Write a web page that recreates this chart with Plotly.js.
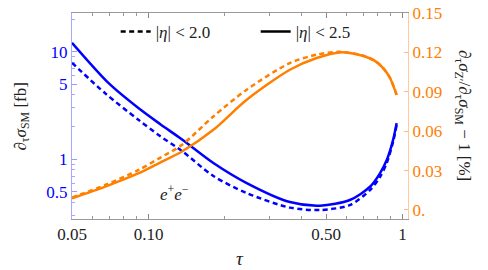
<!DOCTYPE html>
<html>
<head>
<meta charset="utf-8">
<script src="https://cdn.plot.ly/plotly-3.0.1.min.js"></script>
<style>html,body{margin:0;padding:0;background:#fff;}#chart{width:488px;height:270px;}</style>
</head>
<body>
<div id="chart"></div>
<script>
// tau grid and values
const tauBlueSolid = [0.05, 0.0697, 0.0915, 0.111, 0.1355, 0.18, 0.2435, 0.36, 0.473, 0.62, 0.744, 0.8145, 0.866, 0.917, 0.947];
const sigmaSM25    = [12.1, 5.1, 2.98, 2.13, 1.53, 0.925, 0.602, 0.401, 0.371, 0.419, 0.556, 0.741, 0.985, 1.51, 2.17];

const tauBlueDash  = [0.05, 0.0676, 0.0915, 0.111, 0.1355, 0.18, 0.2435, 0.36, 0.473, 0.62, 0.744, 0.8145, 0.866, 0.917, 0.947];
const sigmaSM20    = [7.90, 4.10, 2.32, 1.646, 1.194, 0.700, 0.486, 0.356, 0.338, 0.376, 0.518, 0.685, 0.925, 1.45, 2.08];

const tauOrange    = [0.05, 0.0676, 0.0915, 0.111, 0.1355, 0.18, 0.2435, 0.36, 0.459, 0.567, 0.70, 0.778, 0.84, 0.892, 0.947];
const ratio25      = [0.0089, 0.0178, 0.0280, 0.0361, 0.0445, 0.0610, 0.0839, 0.1068, 0.1157, 0.1200, 0.1172, 0.1135, 0.1078, 0.1005, 0.0877];
const ratio20      = [0.0095, 0.0190, 0.0305, 0.0397, 0.0496, 0.0712, 0.0916, 0.1119, 0.1183, 0.1204, 0.1175, 0.1136, 0.1078, 0.1007, 0.0877];

const xTickVals = [0.05, 0.1, 0.5, 1];
const xTickText = ['0.05', '0.10', '0.50', '1'];
const xMinor = [0.06, 0.07, 0.08, 0.09, 0.2, 0.3, 0.4, 0.6, 0.7, 0.8, 0.9];
const yTickVals = [0.5, 1, 5, 10];
const yTickText = ['0.5', '1', '5', '10'];
const yMinor = [0.3, 0.4, 0.6, 0.7, 0.8, 0.9, 2, 3, 4, 6, 7, 8, 9, 20];
const y2TickVals = [0, 0.03, 0.06, 0.09, 0.12, 0.15];
const y2TickText = ['0.', '0.03', '0.06', '0.09', '0.12', '0.15'];
const legendLabels = ['|<i>η</i>| < 2.0', '|<i>η</i>| < 2.5'];

const BLUE = '#0000ff', ORANGE = '#ff8000';
const FONT = 'Liberation Serif';
const DASH = '5px,3.5px';
const LW = 2.5;

const traces = [
  {x: tauBlueDash, y: sigmaSM20, yaxis: 'y', mode: 'lines', showlegend: false,
   line: {color: BLUE, width: LW, dash: DASH, shape: 'spline', smoothing: 0.8}},
  {x: tauBlueSolid, y: sigmaSM25, yaxis: 'y', mode: 'lines', showlegend: false,
   line: {color: BLUE, width: LW, shape: 'spline', smoothing: 0.8}},
  {x: tauOrange, y: ratio20, yaxis: 'y2', mode: 'lines', showlegend: false,
   line: {color: ORANGE, width: LW, dash: DASH, shape: 'spline', smoothing: 0.8}},
  {x: tauOrange, y: ratio25, yaxis: 'y2', mode: 'lines', showlegend: false,
   line: {color: ORANGE, width: LW, shape: 'spline', smoothing: 0.8}},
  {x: [null], y: [null], mode: 'lines', name: legendLabels[0], line: {color: '#000', width: LW, dash: DASH}},
  {x: [null], y: [null], mode: 'lines', name: legendLabels[1], line: {color: '#000', width: LW}}
];

const layout = {
  width: 488, height: 270,
  margin: {l: 72, r: 80, t: 13, b: 51, pad: 0},
  paper_bgcolor: '#fff', plot_bgcolor: '#fff',
  font: {family: FONT, size: 17, color: '#222'},
  showlegend: true,
  legend: {orientation: 'h', x: 0.13, y: 0.908, xanchor: 'left', yanchor: 'middle',
           font: {family: FONT, size: 17, color: '#222'}, bgcolor: 'rgba(0,0,0,0)',
           entrywidth: 95, entrywidthmode: 'pixels', tracegroupgap: 0},
  xaxis: {type: 'log', range: [Math.log10(0.05), Math.log10(1.05)],
          tickmode: 'array', tickvals: xTickVals, ticktext: xTickText,
          ticks: 'inside', ticklen: 5, tickwidth: 1, tickcolor: '#888',
          showline: true, linecolor: '#999', linewidth: 1, mirror: 'ticks',
          showgrid: false, zeroline: false,
          tickfont: {family: FONT, size: 17, color: '#222'},
          minor: {tickmode: 'array', tickvals: xMinor, ticks: 'inside', ticklen: 3, tickcolor: '#999', showgrid: false}},
  yaxis: {type: 'log', range: [Math.log10(0.279), Math.log10(22.9)],
          tickmode: 'array', tickvals: yTickVals, ticktext: yTickText,
          ticks: 'inside', ticklen: 5, tickwidth: 1, tickcolor: 'rgba(110,110,255,0.7)',
          showline: true, linecolor: 'rgba(110,110,255,0.6)', linewidth: 1,
          showgrid: false, zeroline: false,
          tickfont: {family: FONT, size: 17, color: BLUE},
          minor: {tickmode: 'array', tickvals: yMinor, ticks: 'inside', ticklen: 3, tickcolor: 'rgba(110,110,255,0.6)', showgrid: false}},
  yaxis2: {overlaying: 'y', side: 'right', anchor: 'x', range: [-0.0069, 0.15],
           tickmode: 'array', tickvals: y2TickVals, ticktext: y2TickText,
           ticks: 'inside', ticklen: 4, tickwidth: 1, tickcolor: 'rgba(255,170,100,0.8)',
           showline: true, linecolor: 'rgba(255,180,120,0.7)', linewidth: 1,
           showgrid: false, zeroline: false,
           tickfont: {family: FONT, size: 17, color: ORANGE}},
  annotations: [
    {text: '<i>τ</i>', xref: 'paper', yref: 'paper', x: 0.5, y: -0.19, showarrow: false,
     xanchor: 'center', yanchor: 'middle', font: {family: FONT, size: 19, color: '#222'}},
    {text: '<i>e</i><sup>+</sup><i>e</i><sup>−</sup>', xref: 'paper', yref: 'paper', x: 0.3065, y: 0.126,
     showarrow: false, xanchor: 'center', yanchor: 'middle', font: {family: FONT, size: 17, color: '#222'}},
    {text: '∂<sub>τ</sub><i>σ</i><sub>SM</sub> [fb]', xref: 'paper', yref: 'paper', x: -0.15, y: 0.5,
     textangle: -90, showarrow: false, xanchor: 'center', yanchor: 'middle',
     font: {family: FONT, size: 17, color: '#222'}},
    {text: '∂<sub>τ</sub><i>σ</i><sub>Z′</sub>/∂<sub>τ</sub><i>σ</i><sub>SM</sub> − 1 [%]', xref: 'paper', yref: 'paper',
     x: 1.1637, y: 0.505, textangle: 90, showarrow: false, xanchor: 'center', yanchor: 'middle',
     font: {family: FONT, size: 17, color: '#222'}}
  ]
};

Plotly.newPlot('chart', traces, layout, {displayModeBar: false, staticPlot: true});
</script>
</body>
</html>
